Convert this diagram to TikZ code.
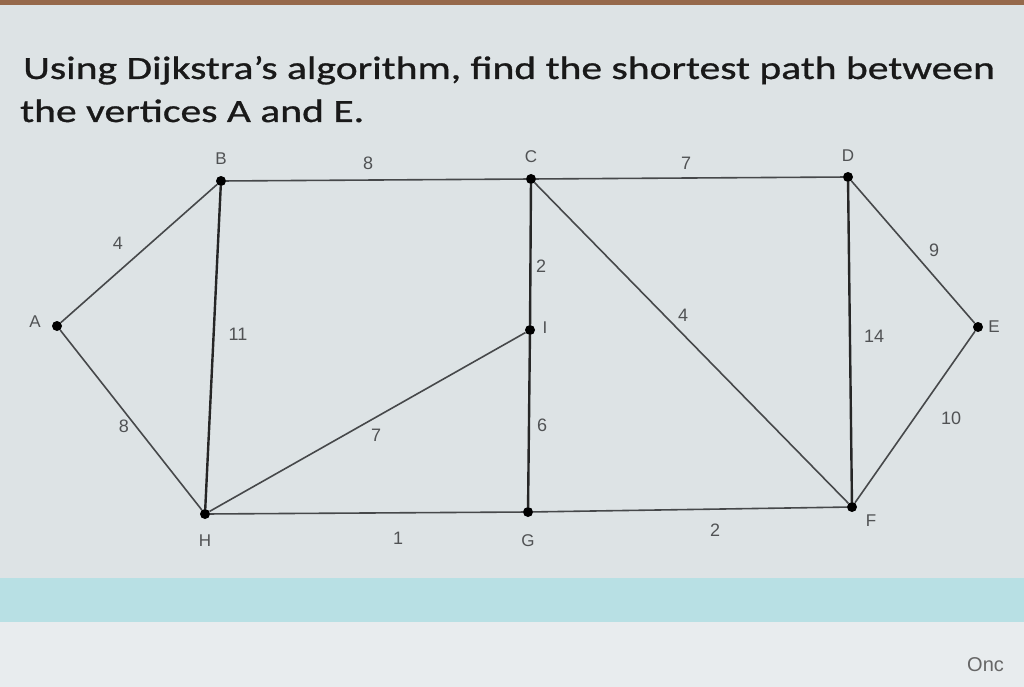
\documentclass[tikz,border=0pt]{standalone}
\usepackage{fontspec}
\setmainfont{Carlito}
\newfontfamily\titlefont[FakeStretch=1.28,FakeBold=0.9]{Carlito}
\newfontfamily\lblfont{Liberation Sans}
\definecolor{bgmain}{RGB}{221,227,229}
\definecolor{bgband}{RGB}{184,224,228}
\definecolor{bglow}{RGB}{232,236,238}
\definecolor{topstrip}{RGB}{150,105,75}
\definecolor{edgecol}{RGB}{70,72,74}
\definecolor{lblcol}{RGB}{80,82,84}
\tikzset{
  vtx/.style={circle,fill=black,inner sep=0pt,minimum size=10pt},
  edge/.style={draw=edgecol,line width=1.6pt},
  vedge/.style={draw=black!85,line width=2.4pt},
  vlbl/.style={font=\lblfont\fontsize{17}{17}\selectfont,text=lblcol,inner sep=0pt},
  wlbl/.style={font=\lblfont\fontsize{18}{18}\selectfont,text=lblcol,inner sep=0pt},
  title/.style={font=\titlefont\fontsize{32.5}{40}\selectfont,text=black!90,anchor=base west,inner sep=0pt}
}
\begin{document}
\begin{tikzpicture}[x=1pt,y=-1pt]
\useasboundingbox (0,0) rectangle (1024,687);
\fill[bgmain] (0,0) rectangle (1024,687);
\fill[topstrip] (0,0) rectangle (1024,5);
\fill[bgband] (0,578) rectangle (1024,622);
\fill[bglow] (0,622) rectangle (1024,687);
\node[title] (t1) at (23,79) {Using Dijkstra’s algorithm, find the shortest path between};
\node[title] (t2) at (20,122) {the vertices A and E.};
\node[font=\lblfont\fontsize{20}{20}\selectfont,text=black!60,anchor=base west,inner sep=0pt] (onc) at (967,671) {Onc};
% vertices
\node[vtx] (A) at (57,326) {};
\node[vtx] (B) at (221,181) {};
\node[vtx] (C) at (531,179) {};
\node[vtx] (D) at (848,177) {};
\node[vtx] (E) at (978,327) {};
\node[vtx] (F) at (852,507) {};
\node[vtx] (G) at (528,512) {};
\node[vtx] (H) at (205,514) {};
\node[vtx] (I) at (530,330) {};
% edges
\draw[edge] (A) -- (B);
\draw[edge] (A) -- (H);
\draw[edge] (B) -- (C);
\draw[vedge] (B) -- (H);
\draw[edge] (C) -- (D);
\draw[vedge] (C) -- (I);
\draw[edge] (C) -- (F);
\draw[vedge] (I) -- (G);
\draw[edge] (I) -- (H);
\draw[edge] (H) -- (G);
\draw[edge] (G) -- (F);
\draw[vedge] (D) -- (F);
\draw[edge] (D) -- (E);
\draw[edge] (E) -- (F);
% vertex labels
\node[vlbl] (lA) at (35,322) {A};
\node[vlbl] (lB) at (221,159) {B};
\node[vlbl] (lC) at (531,157) {C};
\node[vlbl] (lD) at (848,156) {D};
\node[vlbl] (lE) at (994,327) {E};
\node[vlbl] (lF) at (871,521) {F};
\node[vlbl] (lG) at (528,541) {G};
\node[vlbl] (lH) at (205,541) {H};
\node[vlbl] (lI) at (545,328) {I};
% weights
\node[wlbl] (wAB) at (118,243) {4};
\node[wlbl] (wBC) at (368,163) {8};
\node[wlbl] (wCD) at (686,163) {7};
\node[wlbl] (wCI) at (541,266) {2};
\node[wlbl] (wCF) at (683,315) {4};
\node[wlbl] (wDE) at (934,250) {9};
\node[wlbl] (wDF) at (874,336) {14};
\node[wlbl] (wBH) at (238,334) {11};
\node[wlbl] (wAH) at (124,426) {8};
\node[wlbl] (wHI) at (376,435) {7};
\node[wlbl] (wIG) at (542,425) {6};
\node[wlbl] (wEF) at (951,418) {10};
\node[wlbl] (wHG) at (398,538) {1};
\node[wlbl] (wGF) at (715,530) {2};
\end{tikzpicture}
\end{document}
